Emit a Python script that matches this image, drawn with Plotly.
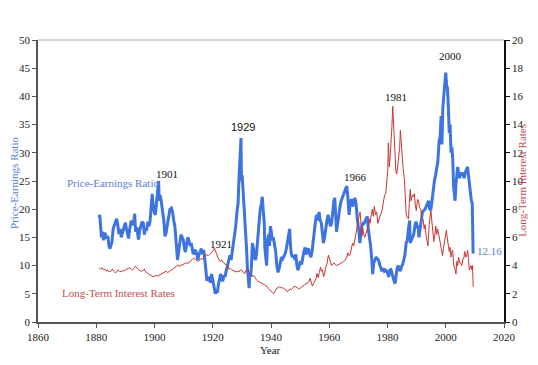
import plotly.graph_objects as go

pe_year = [1881.0,1881.2,1881.5,1881.8,1882.1,1882.5,1882.8,1883.2,1883.6,1884.0,1884.4,1884.7,1885.0,1885.4,1885.8,
1886.2,1886.6,1887.0,1887.4,1887.8,1888.2,1888.6,1889.0,1889.5,1890.0,1890.4,1890.8,1891.1,1891.5,1892.0,1892.4,1892.8,
1893.2,1893.5,1893.9,1894.2,1894.5,1894.9,1895.3,1895.7,1896.2,1896.5,1896.9,1897.3,1897.7,1898.1,1898.5,1898.9,1899.2,
1899.5,1899.9,1900.3,1900.6,1900.9,1901.2,1901.4,1901.6,1901.9,1902.2,1902.6,1902.9,1903.2,1903.6,1904.0,1904.5,1904.9,
1905.3,1905.8,1906.2,1906.6,1907.0,1907.3,1907.6,1907.9,1908.3,1908.7,1909.1,1909.5,1909.9,1910.3,1910.6,1911.0,1911.4,
1911.8,1912.2,1912.6,1912.9,1913.3,1913.7,1914.1,1914.5,1914.9,1915.3,1915.7,1916.1,1916.5,1916.9,1917.3,1917.7,1918.0,
1918.4,1918.8,1919.2,1919.6,1919.9,1920.3,1920.6,1920.9,1921.2,1921.6,1921.9,1922.3,1922.7,1923.0,1923.4,1923.8,1924.2,
1924.6,1925.0,1925.5,1925.9,1926.3,1926.7,1927.1,1927.5,1927.9,1928.3,1928.7,1929.0,1929.3,1929.5,1929.7,1929.85,1930.1,
1930.3,1930.6,1931.0,1931.3,1931.6,1931.9,1932.2,1932.5,1932.7,1933.0,1933.3,1933.6,1934.0,1934.3,1934.7,1935.0,1935.5,
1935.9,1936.3,1936.7,1937.0,1937.3,1937.7,1937.9,1938.2,1938.5,1938.8,1939.2,1939.5,1939.8,1940.1,1940.4,1940.8,1941.2,
1941.6,1942.0,1942.4,1942.8,1943.2,1943.6,1944.0,1944.4,1944.8,1945.2,1945.6,1946.0,1946.4,1946.7,1947.0,1947.4,1947.8,
1948.2,1948.5,1948.9,1949.3,1949.7,1950.1,1950.5,1950.9,1951.3,1951.7,1952.1,1952.5,1952.9,1953.3,1953.7,1954.1,1954.5,
1954.9,1955.3,1955.7,1956.1,1956.5,1956.9,1957.3,1957.7,1958.0,1958.4,1958.8,1959.2,1959.6,1960.0,1960.4,1960.8,1961.2,
1961.6,1961.9,1962.3,1962.5,1962.9,1963.3,1963.7,1964.1,1964.5,1964.9,1965.3,1965.7,1966.0,1966.4,1966.8,1967.2,1967.6,
1968.0,1968.4,1968.8,1969.2,1969.6,1969.9,1970.3,1970.5,1970.8,1971.2,1971.6,1972.0,1972.4,1972.8,1973.1,1973.4,1973.8,
1974.2,1974.6,1974.9,1975.3,1975.7,1976.1,1976.5,1976.9,1977.3,1977.7,1978.1,1978.5,1978.9,1979.3,1979.7,1980.1,1980.4,
1980.8,1981.2,1981.6,1981.9,1982.3,1982.6,1982.9,1983.3,1983.6,1984.0,1984.4,1984.8,1985.2,1985.6,1986.0,1986.4,1986.8,
1987.2,1987.6,1987.8,1988.2,1988.6,1989.0,1989.4,1989.8,1990.2,1990.6,1990.8,1991.2,1991.6,1992.0,1992.5,1992.9,1993.3,
1993.7,1994.1,1994.5,1994.9,1995.3,1995.7,1996.1,1996.5,1996.9,1997.3,1997.7,1998.1,1998.4,1998.7,1999.0,1999.3,1999.6,
1999.8,2000.0,2000.3,2000.6,2000.9,2001.2,2001.5,2001.8,2002.1,2002.4,2002.7,2002.9,2003.2,2003.5,2003.8,2004.1,2004.4,
2004.8,2005.1,2005.5,2005.9,2006.3,2006.7,2007.1,2007.5,2007.8,2008.1,2008.5,2008.8,2009.1,2009.25,2009.4]
pe_value = [18.5,19.0,17.0,15.0,16.0,14.5,15.8,15.5,14.8,15.2,13.4,13.0,13.5,14.2,16.5,
17.0,17.8,18.3,17.2,15.6,16.5,15.0,15.8,16.8,17.6,16.5,15.2,14.8,16.5,18.0,17.2,17.5,
19.2,16.0,16.8,15.2,14.6,16.2,17.0,17.8,17.5,15.5,16.5,16.2,17.8,17.0,18.0,20.5,22.7,
21.0,19.5,19.0,20.5,22.5,24.5,25.0,21.5,22.5,21.8,20.5,19.5,18.0,15.2,15.8,17.5,19.0,
20.0,20.2,19.5,18.0,17.0,15.0,12.5,11.0,12.5,14.0,15.5,15.0,14.5,13.0,12.4,13.8,15.0,
14.5,13.5,14.0,12.8,12.0,12.5,12.8,12.0,11.0,12.0,12.5,13.0,12.0,12.8,11.0,8.5,7.3,
8.0,7.5,7.0,8.5,7.5,6.5,5.5,5.0,5.5,5.2,6.5,7.5,8.5,8.0,7.2,8.3,8.0,
9.0,10.0,11.0,11.8,11.0,12.5,13.5,15.0,17.0,19.5,21.0,25.5,27.5,30.5,32.6,25.0,26.0,
24.5,21.5,19.0,17.0,13.0,9.5,7.5,6.0,8.5,8.0,10.0,14.0,13.0,11.5,11.0,12.0,15.0,
18.0,20.0,21.0,22.2,20.0,17.5,13.0,10.5,10.0,14.5,15.5,13.5,17.0,16.0,14.5,15.0,13.5,
12.5,10.0,8.8,9.5,10.8,11.5,11.2,11.6,12.0,12.8,14.0,15.5,16.5,13.5,12.0,11.5,11.8,
11.0,12.0,10.0,9.2,10.0,10.8,10.2,11.5,12.5,13.2,12.0,12.8,13.0,12.0,11.5,12.5,14.5,
16.0,18.0,19.0,18.0,19.5,18.0,17.5,15.0,14.0,15.0,17.0,18.0,19.0,18.0,17.0,17.5,20.0,
21.5,22.0,19.0,16.0,17.5,19.5,20.5,21.5,22.0,22.5,23.0,23.5,24.1,22.0,19.0,21.0,21.8,
20.5,21.0,22.0,21.0,18.5,17.5,15.5,14.0,15.5,17.0,17.5,17.5,18.0,18.5,18.7,16.5,15.0,
13.5,11.0,8.5,10.5,11.0,11.5,11.2,11.0,10.2,9.5,9.0,9.5,9.0,9.2,9.0,8.6,8.0,
9.2,9.3,8.5,7.8,7.2,6.8,8.5,9.5,10.0,9.5,9.0,9.8,10.2,11.0,12.0,14.0,14.5,
16.5,18.0,14.0,14.5,14.8,15.5,17.0,17.8,17.0,16.5,15.0,16.5,17.5,19.5,19.8,20.0,20.5,
21.0,21.5,20.0,20.0,21.5,23.5,25.0,26.0,27.5,28.5,32.0,33.0,36.5,31.5,38.0,40.0,41.0,
43.5,44.2,42.0,41.5,38.0,33.5,35.0,30.0,31.0,29.0,24.0,22.5,21.5,24.5,26.0,27.5,26.5,
25.5,26.5,26.0,26.5,25.5,26.5,27.0,27.5,26.0,24.5,22.5,21.5,21.0,17.0,12.16]

rate_year = [1881.0,1881.5,1882.0,1882.5,1883.0,1883.5,1884.0,1884.5,1885.0,1885.5,1886.0,1886.5,1887.0,1887.5,1888.0,
1888.5,1889.0,1889.5,1890.0,1890.5,1891.0,1891.5,1892.0,1892.5,1893.0,1893.5,1894.0,1894.5,1895.0,1895.5,1896.0,1896.5,
1897.0,1897.5,1898.0,1898.5,1899.0,1899.5,1900.0,1900.5,1901.0,1901.5,1902.0,1902.5,1903.0,1903.5,1904.0,1904.5,1905.0,
1905.5,1906.0,1906.5,1907.0,1907.5,1908.0,1908.5,1909.0,1909.5,1910.0,1910.5,1911.0,1911.5,1912.0,1912.5,1913.0,1913.5,
1914.0,1914.5,1915.0,1915.5,1916.0,1916.5,1917.0,1917.5,1918.0,1918.5,1919.0,1919.5,1920.0,1920.3,1920.6,1920.9,1921.2,
1921.6,1922.0,1922.5,1923.0,1923.5,1924.0,1924.5,1925.0,1925.5,1926.0,1926.5,1927.0,1927.5,1928.0,1928.5,1929.0,1929.5,
1930.0,1930.5,1931.0,1931.5,1932.0,1932.5,1933.0,1933.5,1934.0,1934.5,1935.0,1935.5,1936.0,1936.5,1937.0,1937.5,1938.0,
1938.5,1939.0,1939.5,1940.0,1940.5,1940.9,1941.3,1941.7,1942.0,1942.5,1943.0,1943.5,1944.0,1944.5,1945.0,1945.5,1946.0,
1946.5,1947.0,1947.5,1948.0,1948.5,1949.0,1949.5,1950.0,1950.5,1951.0,1951.5,1952.0,1952.5,1953.0,1953.4,1953.8,1954.2,
1954.6,1955.0,1955.5,1955.8,1956.2,1956.6,1957.0,1957.3,1957.7,1958.0,1958.4,1958.8,1959.2,1959.7,1960.0,1960.4,1960.8,
1961.2,1961.6,1962.0,1962.5,1963.0,1963.5,1964.0,1964.5,1965.0,1965.5,1966.0,1966.4,1966.8,1967.2,1967.6,1968.0,1968.4,
1968.8,1969.2,1969.6,1969.9,1970.3,1970.6,1970.9,1971.2,1971.5,1971.8,1972.2,1972.6,1973.0,1973.4,1973.7,1974.0,1974.4,
1974.8,1975.1,1975.5,1975.9,1976.3,1976.7,1977.0,1977.4,1977.8,1978.2,1978.6,1979.0,1979.4,1979.8,1980.1,1980.3,1980.6,
1980.9,1981.2,1981.5,1981.8,1982.0,1982.3,1982.6,1982.9,1983.2,1983.6,1983.9,1984.2,1984.4,1984.7,1985.0,1985.4,1985.8,
1986.1,1986.4,1986.8,1987.2,1987.5,1987.8,1988.1,1988.5,1988.9,1989.2,1989.6,1989.9,1990.3,1990.7,1991.0,1991.4,1991.8,
1992.2,1992.6,1992.9,1993.2,1993.6,1993.9,1994.3,1994.7,1994.9,1995.3,1995.6,1995.9,1996.3,1996.6,1996.9,1997.2,1997.6,
1997.9,1998.3,1998.7,1998.9,1999.2,1999.6,1999.9,2000.2,2000.5,2000.9,2001.2,2001.5,2001.8,2002.1,2002.4,2002.7,2002.9,
2003.2,2003.5,2003.8,2004.1,2004.4,2004.8,2005.1,2005.5,2005.9,2006.2,2006.5,2006.9,2007.2,2007.5,2007.8,2008.1,2008.4,
2008.7,2009.0,2009.2,2009.3,2009.45]
rate_value = [3.85,3.75,3.85,3.7,3.75,3.6,3.7,3.55,3.6,3.75,3.6,3.5,3.55,3.7,3.6,
3.55,3.65,3.6,3.7,3.75,3.8,3.85,3.75,3.7,3.8,3.95,3.85,3.7,3.65,3.6,3.65,3.75,
3.55,3.45,3.4,3.35,3.25,3.2,3.25,3.3,3.25,3.3,3.35,3.4,3.45,3.55,3.6,3.5,3.6,
3.65,3.7,3.8,3.85,4.0,4.05,3.95,4.0,4.05,4.1,4.15,4.2,4.15,4.25,4.3,4.45,4.55,
4.45,4.35,4.3,4.4,4.5,4.45,4.6,4.8,4.75,4.7,4.8,4.9,5.0,5.15,5.25,5.05,4.85,
4.6,4.45,4.3,4.4,4.25,4.15,4.0,3.95,3.75,3.8,3.7,3.65,3.6,3.55,3.6,3.55,3.7,
3.65,3.5,3.45,3.7,3.8,3.5,3.4,3.25,3.3,3.1,3.0,2.9,2.85,2.8,2.7,2.65,2.6,
2.55,2.4,2.3,2.25,2.1,2.0,2.15,2.3,2.4,2.45,2.5,2.4,2.45,2.35,2.3,2.15,2.2,
2.35,2.3,2.4,2.55,2.5,2.45,2.35,2.4,2.5,2.6,2.65,2.7,2.8,2.85,3.1,2.75,2.55,
2.7,2.85,3.1,3.45,3.15,3.5,3.9,3.6,3.7,3.2,3.4,3.9,4.1,4.75,4.5,4.2,4.0,
4.1,4.2,4.1,4.0,4.05,4.1,4.15,4.2,4.3,4.4,4.6,4.9,4.7,4.8,5.3,5.6,5.4,
5.9,6.2,6.7,7.1,7.6,7.8,6.8,6.1,6.7,6.2,6.0,6.3,6.5,6.8,7.3,7.0,7.6,
8.0,7.5,8.2,7.6,7.8,7.0,7.3,7.5,7.7,8.0,8.5,9.0,9.1,10.0,10.8,12.7,11.0,
11.7,12.6,13.8,15.3,14.5,13.8,12.6,10.6,10.5,11.5,11.8,12.4,13.6,12.5,11.4,10.8,10.2,
9.2,7.7,7.4,7.3,8.4,9.4,8.6,9.0,8.9,9.1,8.2,7.9,8.7,8.6,8.1,8.0,7.4,
7.3,6.6,6.9,6.2,5.8,5.4,6.9,7.5,7.9,7.0,6.3,5.7,6.3,6.8,6.2,6.6,6.2,
5.8,5.6,4.8,4.7,5.2,5.9,6.4,6.5,6.0,5.3,5.0,5.3,4.6,5.0,5.1,4.0,4.0,
3.7,3.4,4.3,4.0,4.6,4.2,4.2,4.0,4.5,4.5,5.0,4.6,4.7,5.1,4.5,3.7,3.9,
4.0,3.7,4.0,3.2,2.5]

x_ticks = [1860, 1880, 1900, 1920, 1940, 1960, 1980, 2000, 2020]
pe_ticks = [0, 5, 10, 15, 20, 25, 30, 35, 40, 45, 50]
rate_ticks = [0, 2, 4, 6, 8, 10, 12, 14, 16, 18, 20]

BLUE = "#3d74e0"
BLUE_TXT = "#5a7fd2"
RED = "#cc3333"
RED_TXT = "#c0504d"
SERIF = "Liberation Serif, Times New Roman, serif"

fig = go.Figure()
fig.add_trace(go.Scatter(x=rate_year, y=rate_value, yaxis="y2", mode="lines",
                         line=dict(color=RED, width=1), showlegend=False))
fig.add_trace(go.Scatter(x=pe_year, y=pe_value, mode="lines",
                         line=dict(color=BLUE, width=3), showlegend=False))

fig.update_layout(
    width=538, height=365,
    margin=dict(l=38, r=34, t=40, b=43),
    paper_bgcolor="white", plot_bgcolor="white",
    font=dict(family=SERIF, size=11, color="#222"),
    xaxis=dict(range=[1860, 2020], tickvals=x_ticks, showgrid=False, zeroline=False,
               showline=True, linecolor="#555", linewidth=1.5, ticks="outside",
               ticklen=4, tickcolor="#555", tickfont=dict(family=SERIF, size=11, color="#222")),
    yaxis=dict(range=[0, 50], tickvals=pe_ticks, showgrid=False, zeroline=False,
               showline=True, linecolor="#555", linewidth=1.5, ticks="outside",
               ticklen=4, tickcolor="#555", tickfont=dict(family=SERIF, size=11, color="#222")),
    yaxis2=dict(range=[0, 20], tickvals=rate_ticks, overlaying="y", side="right",
                showgrid=False, zeroline=False, showline=True, linecolor="#111",
                linewidth=1.5, ticks="outside", ticklen=4, tickcolor="#111",
                tickfont=dict(family=SERIF, size=11, color="#222")),
)

fig.add_shape(type="line", xref="paper", yref="paper", x0=0, x1=1, y0=1, y1=1,
              line=dict(color="#aaaaaa", width=1))

def note(text, x, y, color="#111", family=SERIF, size=11, angle=0):
    fig.add_annotation(text=text, x=x, y=y, xref="paper", yref="paper", showarrow=False,
                       textangle=angle, font=dict(family=family, size=size, color=color),
                       xanchor="center", yanchor="middle")

note("Price-Earnings Ratio", 0.160, 0.493, color=BLUE_TXT)
note("Long-Term Interest Rates", 0.172, 0.103, color=RED_TXT)
note("1901", 0.277, 0.525)
note("1921", 0.393, 0.277)
note("1929", 0.439, 0.691, family="Liberation Sans, Arial, sans-serif")
note("1966", 0.682, 0.514)
note("1981", 0.768, 0.798)
note("2000", 0.886, 0.943)
note("12.16", 0.968, 0.252, color=BLUE_TXT)
note("Price-Earnings Ratio", -0.0515, 0.493, color=BLUE_TXT, angle=-90)
note("Long-Term Interest Rates", 1.0386, 0.504, color=RED_TXT, angle=-90)
note("Year", 0.498, -0.099)

fig.write_html("out.html", config={"displayModeBar": False},
               post_script="document.body.style.margin='0';document.body.style.overflow='hidden';")
